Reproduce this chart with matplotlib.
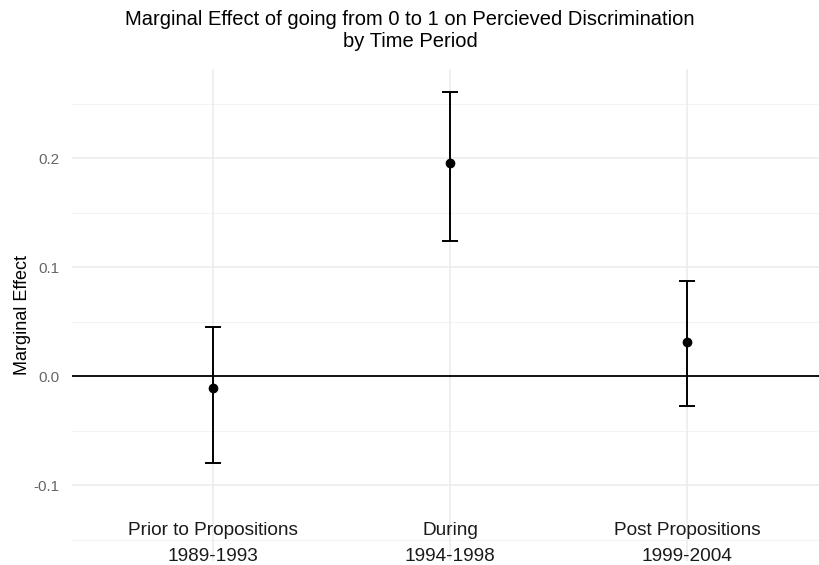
import matplotlib.pyplot as plt
import numpy as np

plt.rcParams['font.family'] = ['Liberation Sans', 'DejaVu Sans']

periods = ['Prior to Propositions\n1989-1993', 'During\n1994-1998', 'Post Propositions\n1999-2004']
effect = [-0.0113, 0.1957, 0.0309]
lower = [-0.0795, 0.1239, -0.0275]
upper = [0.045, 0.261, 0.087]

major_y = [-0.1, 0.0, 0.1, 0.2]
minor_y = [-0.15, -0.05, 0.05, 0.15, 0.25]

fig = plt.figure(figsize=(8.2, 5.65), dpi=100)
ax = fig.add_axes([0.0878, 0.0065, 0.925, 0.8713])

x = np.arange(1, len(periods) + 1)
ax.set_xlim(0.405, 3.605)
ax.set_ylim(-0.17, 0.2817)

# ggplot-like minimal grid
for v in minor_y:
    ax.axhline(v, color='#f3f3f3', lw=0.8, zorder=0)
for v in major_y:
    ax.axhline(v, color='#ebebeb', lw=1.1, zorder=0)
for v in x:
    ax.axvline(v, color='#ebebeb', lw=1.1, zorder=0)

ax.axhline(0, color='black', lw=1.3, zorder=1)

yerr = [np.array(effect) - np.array(lower), np.array(upper) - np.array(effect)]
ax.errorbar(x, effect, yerr=yerr, fmt='o', color='black', ms=6,
            elinewidth=1.4, capsize=6, capthick=1.4, zorder=3)

ax.set_xticks(x)
ax.set_xticklabels(periods, fontsize=13.7, color='#1a1a1a', linespacing=1.68)
ax.tick_params(axis='x', length=0, pad=-28.5)
ax.set_yticks(major_y)
ax.set_yticklabels(['-0.1', '0.0', '0.1', '0.2'], fontsize=11, color='#666666')
ax.tick_params(axis='y', length=0, pad=9)

for s in ax.spines.values():
    s.set_visible(False)

ax.set_ylabel('Marginal Effect', fontsize=13, color='black', labelpad=2)
fig.suptitle('Marginal Effect of going from 0 to 1 on Percieved Discrimination\nby Time Period',
             fontsize=14.5, y=0.983, linespacing=1.2)

fig.savefig('out.png', dpi=100)
